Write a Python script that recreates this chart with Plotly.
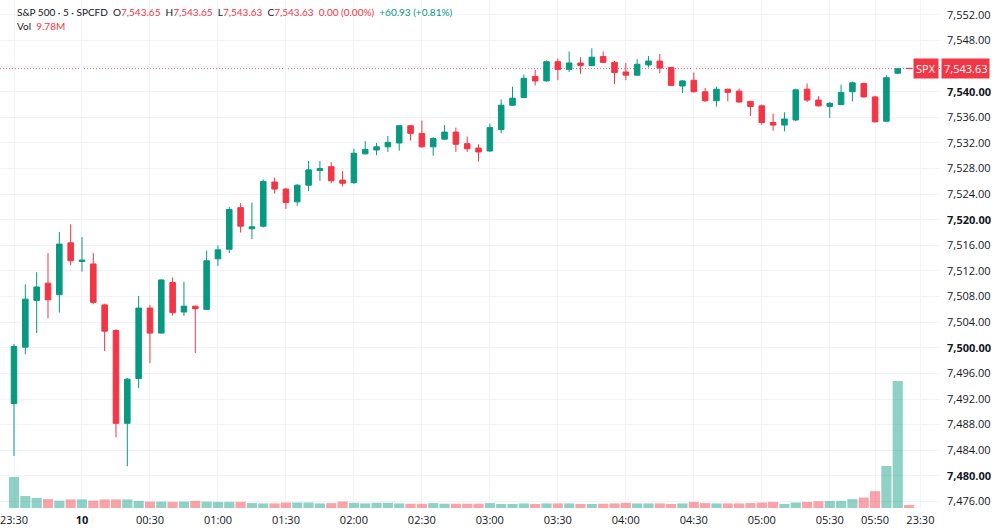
import plotly.graph_objects as go

# ---------------- data (5-minute bars) ----------------
bar_index = list(range(80))
opens = [7491.3, 7500.1, 7507.4, 7510.1, 7508.3, 7516.4, 7513.5, 7513.1, 7506.7, 7502.7,
         7488.2, 7495.2, 7506.2, 7502.3, 7510.2, 7505.6, 7506.5, 7506.0, 7513.9, 7515.4,
         7521.9, 7518.6, 7519.0, 7525.9, 7524.8, 7522.8, 7525.4, 7527.7, 7528.3, 7526.2,
         7525.8, 7530.3, 7530.9, 7531.4, 7532.0, 7534.7, 7533.5, 7531.4, 7532.6, 7533.7,
         7531.9, 7531.2, 7530.75, 7534.1, 7537.9, 7539.1, 7542.4, 7541.7, 7544.7, 7543.5,
         7544.5, 7544.1, 7545.5, 7544.6, 7543.1, 7542.6, 7544.2, 7544.8, 7543.8, 7540.9,
         7541.8, 7540.0, 7538.6, 7540.4, 7540.1, 7538.5, 7537.8, 7535.2, 7534.8, 7535.6,
         7540.4, 7538.7, 7537.7, 7538.0, 7540.0, 7541.3, 7539.2, 7535.4, 7542.9, 7543.65]
highs = [7500.6, 7509.9, 7511.8, 7514.8, 7518.1, 7519.3, 7517.3, 7514.8, 7506.9, 7502.9,
         7495.3, 7508.1, 7506.7, 7510.7, 7511.0, 7510.3, 7506.6, 7515.2, 7516.0, 7522.0,
         7522.6, 7522.7, 7526.3, 7526.6, 7525.0, 7525.6, 7529.2, 7529.2, 7529.0, 7527.6,
         7531.1, 7532.3, 7532.0, 7533.1, 7534.8, 7534.8, 7535.5, 7532.9, 7534.8, 7534.4,
         7533.0, 7531.8, 7535.0, 7538.8, 7540.8, 7542.7, 7543.4, 7544.9, 7545.2, 7546.3,
         7545.4, 7546.8, 7546.3, 7544.8, 7544.5, 7545.1, 7545.6, 7545.9, 7543.9, 7541.8,
         7543.0, 7540.6, 7540.8, 7540.5, 7540.5, 7538.6, 7538.0, 7536.6, 7536.8, 7540.5,
         7541.3, 7539.3, 7538.4, 7541.1, 7541.6, 7541.4, 7539.4, 7542.6, 7543.7, 7543.65]
lows = [7483.1, 7499.0, 7502.3, 7504.6, 7505.5, 7512.9, 7511.9, 7506.8, 7499.5, 7486.0,
        7481.5, 7493.7, 7497.6, 7502.2, 7505.0, 7505.0, 7499.2, 7505.9, 7512.8, 7514.8,
        7518.0, 7517.0, 7518.8, 7524.1, 7521.7, 7522.2, 7524.5, 7526.1, 7525.7, 7525.2,
        7525.6, 7530.2, 7530.1, 7530.6, 7530.8, 7532.4, 7531.3, 7530.0, 7532.5, 7530.6,
        7530.6, 7529.1, 7530.6, 7533.5, 7537.8, 7539.0, 7541.0, 7541.6, 7541.8, 7543.1,
        7542.8, 7544.0, 7544.5, 7541.2, 7541.8, 7542.5, 7543.8, 7542.9, 7540.9, 7539.8,
        7539.9, 7538.4, 7537.7, 7538.5, 7538.3, 7536.2, 7534.8, 7533.9, 7533.8, 7535.4,
        7538.4, 7537.7, 7535.9, 7537.9, 7538.5, 7539.1, 7535.2, 7535.3, 7542.8, 7543.63]
closes = [7500.2, 7507.6, 7509.5, 7507.5, 7516.2, 7513.6, 7513.7, 7507.1, 7502.6, 7488.2,
          7495.1, 7506.2, 7502.3, 7510.6, 7505.5, 7506.5, 7506.1, 7513.6, 7515.3, 7521.6,
          7519.0, 7518.9, 7526.0, 7524.8, 7522.7, 7525.4, 7527.8, 7528.0, 7526.1, 7525.7,
          7530.4, 7531.0, 7531.4, 7532.1, 7534.7, 7533.5, 7531.4, 7532.7, 7533.7, 7531.8,
          7531.1, 7530.6, 7534.4, 7537.9, 7539.0, 7542.1, 7541.7, 7544.7, 7543.5, 7544.5,
          7544.1, 7545.4, 7544.6, 7543.0, 7542.6, 7544.3, 7544.8, 7543.7, 7541.0, 7541.7,
          7540.0, 7538.6, 7540.4, 7539.9, 7538.4, 7537.7, 7535.2, 7534.8, 7535.75, 7540.3,
          7538.7, 7537.8, 7538.2, 7539.9, 7541.4, 7539.2, 7535.3, 7542.2, 7543.6, 7543.63]
volumes_m = [101, 39, 33, 29, 24, 28, 28, 24, 28, 28,
             28, 23, 21, 21, 20, 21, 23, 21, 20, 20,
             20, 16, 15, 15, 18, 18, 18, 15, 16, 21,
             17, 15, 17, 17, 15, 14, 14, 16, 14, 14,
             14, 14, 16, 13, 13, 15, 13, 15, 15, 15,
             13, 13, 14, 15, 17, 15, 15, 15, 13, 15,
             20, 16, 15, 15, 15, 16, 18, 20, 13, 18,
             20, 22, 23, 23, 29, 34, 55, 137, 414, 9.78]

time_tick_pos = [0, 6, 12, 18, 24, 30, 36, 42, 48, 54, 60, 66, 72, 76, 80]
time_tick_text = ["23:30", "<b>10</b>", "00:30", "01:00", "01:30", "02:00", "02:30", "03:00",
                  "03:30", "04:00", "04:30", "05:00", "05:30", "05:50", "23:30"]
price_ticks = [7476 + 4 * k for k in range(20)]
last_price = 7543.63

# header legend items: (prefix, value, value colour key)
header_items = [("S&P 500 · 5 · SPCFD", "", "text"),
                ("O", "7,543.65", "down"),
                ("H", "7,543.65", "down"),
                ("L", "7,543.63", "down"),
                ("C", "7,543.63", "down"),
                ("", "0.00 (0.00%)", "down"),
                ("", "+60.93 (+0.81%)", "up")]

UP = "#089981"
DOWN = "#f23645"
UP_VOL = "rgba(8,153,129,0.45)"
DOWN_VOL = "rgba(242,54,69,0.45)"
TEXT = "#131722"
GRID = "#f0f3fa"
COLMAP = {"text": TEXT, "down": DOWN, "up": UP}


def fmt(v):
    s = f"{v:,.2f}"
    return f"<b>{s}</b>" if v % 20 == 0 else s


price_tick_text = ["" if v == 7544 else fmt(v) for v in price_ticks]
vol_colors = [UP_VOL if c >= o else DOWN_VOL for o, c in zip(opens, closes)]

fig = go.Figure()
fig.add_trace(go.Bar(
    x=bar_index, y=volumes_m, marker=dict(color=vol_colors, line=dict(width=0)),
    yaxis="y2", showlegend=False, hoverinfo="skip"))
fig.add_trace(go.Candlestick(
    x=bar_index, open=opens, high=highs, low=lows, close=closes,
    increasing=dict(line=dict(color=UP, width=1), fillcolor=UP),
    decreasing=dict(line=dict(color=DOWN, width=1), fillcolor=DOWN),
    whiskerwidth=0, showlegend=False))

fig.add_shape(type="line", xref="paper", x0=0, x1=1, yref="y", y0=last_price, y1=last_price,
              line=dict(color="rgba(242,54,69,0.75)", width=1, dash="1px,2px"), layer="below")

HFONT = dict(size=10, color=TEXT, family="Lato")
parts = []
for prefix, value, ckey in header_items:
    txt = ""
    if prefix:
        txt += f"<span style='color:{TEXT}'>{prefix.replace('&', '&amp;')}</span>"
    if value:
        txt += f"<span style='color:{COLMAP[ckey]}'>{value}</span>"
    parts.append(txt)
header = "&nbsp; ".join(parts)
fig.add_annotation(xref="paper", yref="paper", x=15 / 940, y=1, yshift=-4,
                   xanchor="left", yanchor="top", text=header, showarrow=False, font=HFONT)
fig.add_annotation(xref="paper", yref="paper", x=15 / 940, y=1, yshift=-18,
                   xanchor="left", yanchor="top",
                   text=f"<span style='color:{TEXT}'>Vol</span>&nbsp; <span style='color:{DOWN}'>9.78M</span>",
                   showarrow=False, font=HFONT)

fig.add_annotation(xref="paper", yref="y", x=1, y=last_price, xanchor="left", yanchor="middle",
                   text=f"{last_price:,.2f}", showarrow=False, bgcolor=DOWN, borderpad=2,
                   font=dict(size=11, color="white", family="Open Sans"), xshift=1)
fig.add_annotation(xref="paper", yref="y", x=1, y=last_price, xanchor="right", yanchor="middle",
                   text="SPX", showarrow=False, bgcolor=DOWN, borderpad=2,
                   font=dict(size=11, color="white", family="Open Sans"), xshift=-1)

fig.update_layout(
    width=1000, height=532,
    margin=dict(l=0, r=60, t=0, b=24),
    paper_bgcolor="white", plot_bgcolor="white",
    font=dict(family="Open Sans", size=11, color=TEXT),
    bargap=0.1, boxgap=0.3,
    xaxis=dict(range=[-1.236, 81.73], tickmode="array", tickvals=time_tick_pos,
               ticktext=time_tick_text, showgrid=True, gridcolor=GRID, gridwidth=1,
               zeroline=False, showline=False, ticks="", rangeslider=dict(visible=False),
               fixedrange=True, ticklabelstandoff=4, ticklabeloverflow="allow"),
    yaxis=dict(side="right", range=[7474.97, 7554.34], tickmode="array", tickvals=price_ticks,
               ticktext=price_tick_text, showgrid=True, gridcolor=GRID, gridwidth=1,
               zeroline=False, showline=False, ticks="", ticklabelstandoff=6),
    yaxis2=dict(overlaying="y", range=[0, 1656], visible=False, showgrid=False),
)

fig.write_html("out.html")
